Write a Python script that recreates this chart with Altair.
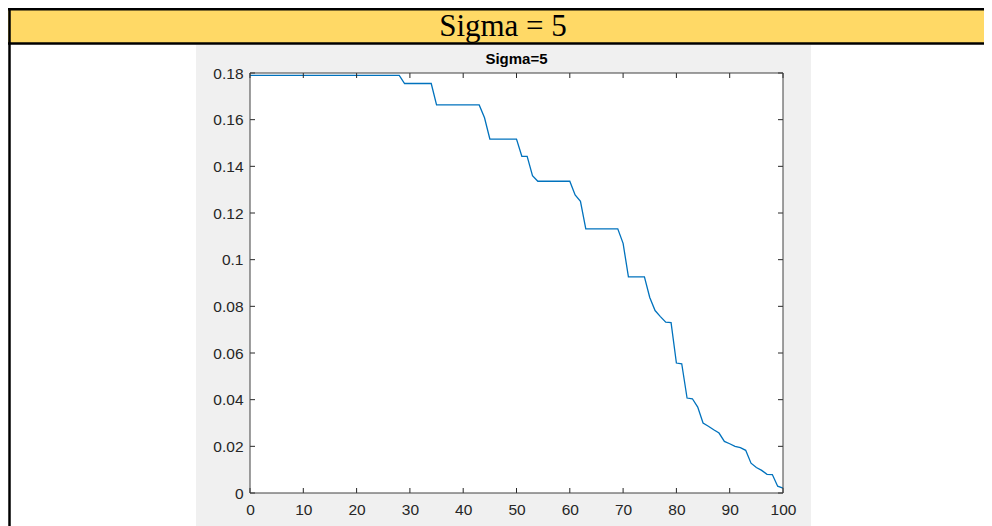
import altair as alt
import pandas as pd

# ---- data ----
x_vals = list(range(0, 101))
y_vals = (
    [0.1790] * 29                      # 0..28
    + [0.1755] * 6                     # 29..34
    + [0.1663] * 9                     # 35..43
    + [0.1608]                         # 44
    + [0.1517] * 6                     # 45..50
    + [0.1443, 0.1443]                 # 51,52
    + [0.1360]                         # 53
    + [0.1336] * 7                     # 54..60
    + [0.1277, 0.1250]                 # 61,62
    + [0.1132] * 7                     # 63..69
    + [0.1070]                         # 70
    + [0.0926] * 4                     # 71..74
    + [0.0838, 0.0782, 0.0756, 0.0732, 0.0730]   # 75..79
    + [0.0557, 0.0554, 0.0407, 0.0404, 0.0368]   # 80..84
    + [0.0300, 0.0286, 0.0271, 0.0257, 0.0221]   # 85..89
    + [0.0211, 0.0200, 0.0194, 0.0183, 0.0128]   # 90..94
    + [0.0109, 0.0097, 0.0080, 0.0079, 0.0029]   # 95..99
    + [0.0021]                                   # 100
)
x_ticks = [0, 10, 20, 30, 40, 50, 60, 70, 80, 90, 100]
y_ticks = [0, 0.02, 0.04, 0.06, 0.08, 0.1, 0.12, 0.14, 0.16, 0.18]
header_text = "Sigma = 5"
title_text = "Sigma=5"

W, H = 533, 420
AX = "#262626"
FONT = "Liberation Sans"

line_df = pd.DataFrame({"x": x_vals, "y": y_vals})
xt_df = pd.DataFrame({"x": x_ticks})
yt_df = pd.DataFrame({"y": y_ticks})
dummy = pd.DataFrame({"a": [0]})

xs = alt.Scale(domain=[0, 100], nice=False, zero=False)
ys = alt.Scale(domain=[0, 0.18], nice=False, zero=False)

x_axis = alt.Axis(
    values=x_ticks, tickSize=0, domain=False, grid=False, title=None,
    labelFont=FONT, labelFontSize=15.5, labelColor=AX, labelPadding=9,
    labelFlush=False, labelOverlap=False, labelBound=False, zindex=2)
y_axis = alt.Axis(
    values=y_ticks, format="~g", tickSize=0, domain=False, grid=False,
    title=None, labelFont=FONT, labelFontSize=15.5, labelColor=AX,
    labelPadding=7, labelFlush=False, labelOverlap=False,
    labelBound=False, zindex=2)

# decorations (document table + MATLAB figure background)
yellow = alt.Chart(dummy).mark_rect(color="#FFD966").encode(
    x=alt.value(-242), x2=alt.value(740), y=alt.value(-65), y2=alt.value(-30))
gray = alt.Chart(dummy).mark_rect(color="#F0F0F0").encode(
    x=alt.value(-54), x2=alt.value(561), y=alt.value(-28), y2=alt.value(470))
white = alt.Chart(dummy).mark_rect(color="white").encode(
    x=alt.value(0), x2=alt.value(W), y=alt.value(0), y2=alt.value(H))
top_line = alt.Chart(dummy).mark_rule(color="black", strokeWidth=3).encode(
    x=alt.value(-242), x2=alt.value(740), y=alt.value(-64))
mid_line = alt.Chart(dummy).mark_rule(color="black", strokeWidth=2.5).encode(
    x=alt.value(-242), x2=alt.value(740), y=alt.value(-29.5))
left_line = alt.Chart(dummy).mark_rule(color="black", strokeWidth=2.5).encode(
    x=alt.value(-240.5), y=alt.value(-65), y2=alt.value(470))
header = alt.Chart(dummy).mark_text(
    text=header_text, font="Liberation Serif", fontSize=31, color="black",
    align="center", baseline="alphabetic").encode(
    x=alt.value(253), y=alt.value(-37))
title = alt.Chart(dummy).mark_text(
    text=title_text, font=FONT, fontSize=15, fontWeight="bold", color="black",
    align="center", baseline="middle").encode(
    x=alt.value(W / 2), y=alt.value(-14))

# the curve with axes
line = alt.Chart(line_df).mark_line(color="#0072BD", strokeWidth=1.3).encode(
    x=alt.X("x:Q", scale=xs, axis=x_axis),
    y=alt.Y("y:Q", scale=ys, axis=y_axis),
)

# inward ticks on all four sides
xt_bottom = alt.Chart(xt_df).mark_rule(color=AX).encode(
    x=alt.X("x:Q", scale=xs, axis=x_axis), y=alt.value(H), y2=alt.value(H - 5))
xt_top = alt.Chart(xt_df).mark_rule(color=AX).encode(
    x=alt.X("x:Q", scale=xs, axis=x_axis), y=alt.value(0), y2=alt.value(5))
yt_left = alt.Chart(yt_df).mark_rule(color=AX).encode(
    y=alt.Y("y:Q", scale=ys, axis=y_axis), x=alt.value(0), x2=alt.value(5))
yt_right = alt.Chart(yt_df).mark_rule(color=AX).encode(
    y=alt.Y("y:Q", scale=ys, axis=y_axis), x=alt.value(W), x2=alt.value(W - 5))

frame = alt.Chart(dummy).mark_rect(fillOpacity=0, stroke="#404040", strokeWidth=1).encode(
    x=alt.value(0), x2=alt.value(W), y=alt.value(0), y2=alt.value(H))

chart = alt.layer(
    yellow, gray, white, top_line, mid_line, left_line, header, title,
    line, xt_bottom, xt_top, yt_left, yt_right, frame,
).properties(
    width=W, height=H,
    autosize=alt.AutoSizeParams(type="none"),
    padding={"left": 242, "top": 65, "right": 201, "bottom": 33},
).configure_view(stroke=None, fill="white").configure(background="white")

chart.save("out.html", embed_options={"renderer": "svg", "actions": False})
